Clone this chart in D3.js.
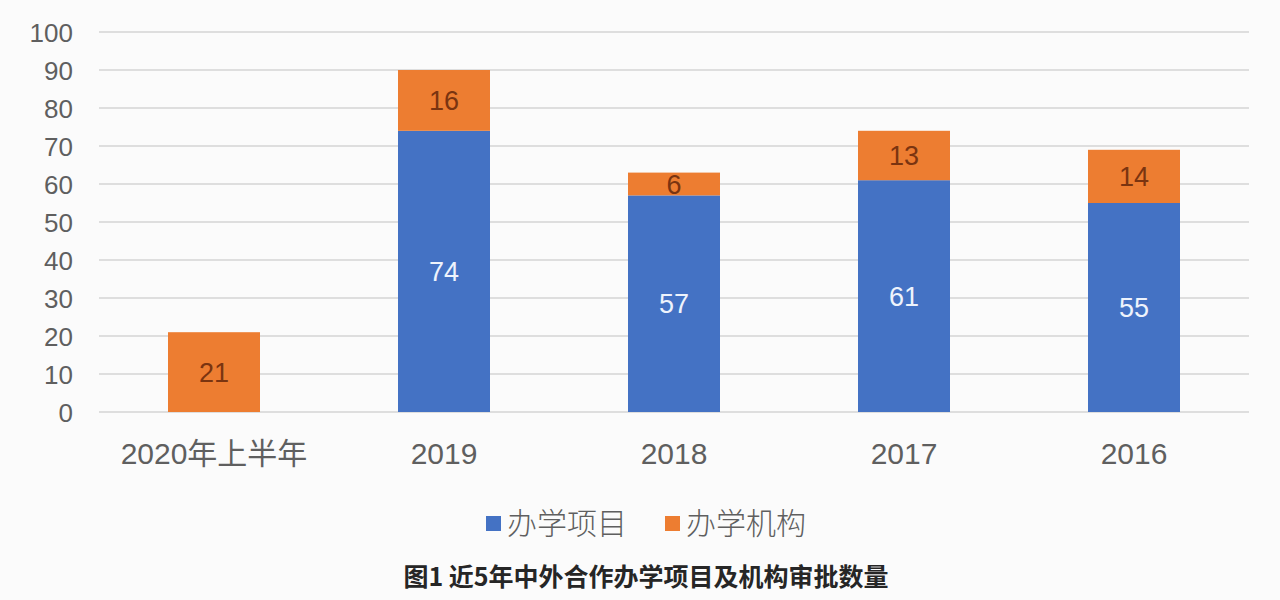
<!DOCTYPE html>
<html><head><meta charset="utf-8">
<script src="https://cdn.jsdelivr.net/npm/d3@7"></script>
<style>body{margin:0;background:#fbfbfb;}svg{display:block;}</style>
</head><body>
<svg id="c" width="1280" height="600"></svg>
<script>
const categories = ["2020年上半年","2019","2018","2017","2016"];
const projects = [0,74,57,61,55];      // 办学项目
const institutions = [21,16,6,13,14];  // 办学机构
const seriesNames = ["办学项目","办学机构"];
const yTicks = [0,10,20,30,40,50,60,70,80,90,100];
const title = "图1 近5年中外合作办学项目及机构审批数量";

const colors = ["#4472c4","#ed7d31"];
const labelColors = ["#eef3fc","#7a3410"];
const font = "'Liberation Sans','Noto Sans CJK SC',Arial,sans-serif";
const titleFont = "'Noto Sans CJK SC','Liberation Sans',sans-serif";

const svg = d3.select("#c");
svg.append("rect").attr("width",1280).attr("height",600).attr("fill","#fbfbfb");

const x = d3.scaleBand().domain(categories).range([99,1249]).paddingInner(0.6).paddingOuter(0.3);
const y = d3.scaleLinear().domain([0,100]).range([412,32]);

// gridlines
svg.append("g").selectAll("line").data(yTicks).join("line")
  .attr("x1",99).attr("x2",1249)
  .attr("y1",d=>y(d)).attr("y2",d=>y(d))
  .attr("stroke","#d4d4d4").attr("stroke-width",1.3);

// y axis labels
const yAxis = d3.axisLeft(y).tickValues(yTicks).tickSize(0).tickPadding(0);
const gy = svg.append("g").attr("transform","translate(73,0)").call(yAxis);
gy.select(".domain").remove();
gy.selectAll("text").attr("font-family",font).attr("font-size",26).attr("fill","#5f5f5f").attr("dy","0.36em");

// x axis labels
const xAxis = d3.axisBottom(x).tickSize(0).tickPadding(0);
const gx = svg.append("g").attr("transform","translate(0,453)").call(xAxis);
gx.select(".domain").remove();
gx.selectAll("text").attr("font-family",font).attr("font-size",30).attr("fill","#5f5f5f").attr("y",0).attr("dy","0.36em");

// stacked data
const rows = categories.map((c,i)=>({cat:c, "办学项目":projects[i], "办学机构":institutions[i]}));
const stack = d3.stack().keys(seriesNames)(rows);

stack.forEach((layer,li)=>{
  const g = svg.append("g");
  const vis = layer.filter(d=>d[1]-d[0]>0);
  g.selectAll("rect").data(vis).join("rect")
    .attr("x",d=>x(d.data.cat)).attr("width",x.bandwidth())
    .attr("y",d=>y(d[1])).attr("height",d=>y(d[0])-y(d[1]))
    .attr("fill",colors[li]);
  g.selectAll("text").data(vis).join("text")
    .attr("x",d=>x(d.data.cat)+x.bandwidth()/2)
    .attr("y",d=>(y(d[0])+y(d[1]))/2)
    .attr("dy","0.36em").attr("text-anchor","middle")
    .attr("font-family",font).attr("font-size",27).attr("fill",labelColors[li])
    .text(d=>d[1]-d[0]);
});

// legend
const legend = svg.append("g");
const lx = [486, 665];
seriesNames.forEach((n,i)=>{
  legend.append("rect").attr("x",lx[i]).attr("y",516).attr("width",15).attr("height",15).attr("fill",colors[i]);
  legend.append("text").attr("x",lx[i]+21).attr("y",523).attr("dy","0.36em")
    .attr("font-family",titleFont).attr("font-size",30).attr("font-weight",300).attr("fill","#5f5f5f").text(n);
});

// title
svg.append("text").attr("x",646).attr("y",577).attr("dy","0.36em").attr("text-anchor","middle")
  .attr("font-family",titleFont).attr("font-size",25).attr("font-weight","bold").attr("fill","#262626").text(title);
</script>
</body></html>
